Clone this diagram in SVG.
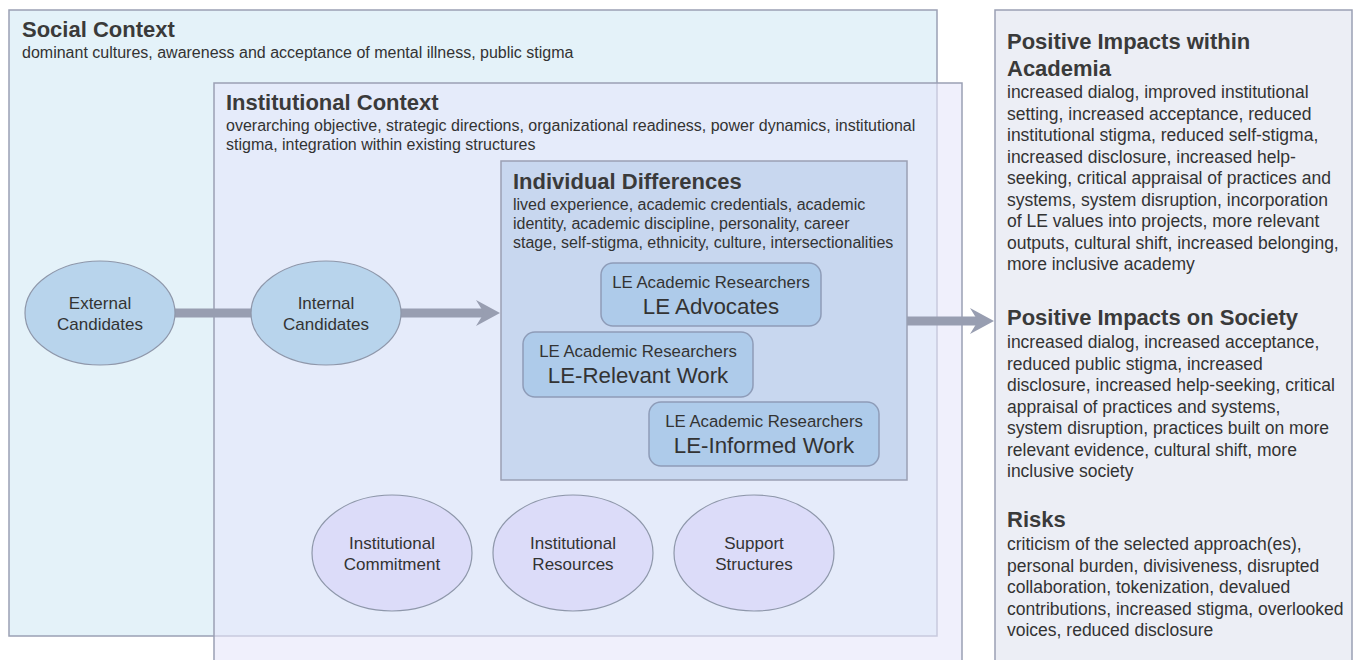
<svg xmlns="http://www.w3.org/2000/svg" width="1354" height="660" viewBox="0 0 1354 660">
<style>
text{font-family:"Liberation Sans",Arial,sans-serif;fill:#333}
.h{font-weight:bold;font-size:22px;fill:#3a3a3a}
.b{font-size:16px}
.r{font-size:17.5px}
.box{stroke:#9aa0b4;stroke-width:1.5}
.le{fill:#aecbea;stroke:#8e9cb8;stroke-width:1.5}
.ell{fill:#b8d4ec;stroke:#8e97aa;stroke-width:1.2}
.ell2{fill:#dcdcf9;stroke:#8e97aa;stroke-width:1.2}
.c{text-anchor:middle}
.e{font-size:17px}
.s{font-size:16.8px}
.t{font-size:22.3px}
.conn{stroke:#989eb1;stroke-width:9;fill:none}
.head{fill:#989eb1}
</style>
<rect width="1354" height="660" fill="#ffffff"/>
<g id="social-context">
<rect class="box" x="9" y="10" width="928" height="626" fill="#e4f2f9"/>
<text class="h" x="22" y="37">Social Context</text>
<text class="b" x="22" y="58">dominant cultures, awareness and acceptance of mental illness, public stigma</text>
</g>
<g id="institutional-context">
<rect class="box" x="214" y="83" width="748" height="600" fill="#e6e6fa" fill-opacity="0.6"/>
<text class="h" x="226" y="110">Institutional Context</text>
<text class="b" x="226" y="131">overarching objective, strategic directions, organizational readiness, power dynamics, institutional</text>
<text class="b" x="226" y="150">stigma, integration within existing structures</text>
</g>
<g id="individual-differences">
<rect class="box" x="501" y="161" width="406" height="319" fill="#c8d7ef"/>
<text class="h" x="513" y="189">Individual Differences</text>
<text class="b" x="513" y="210">lived experience, academic credentials, academic</text>
<text class="b" x="513" y="229">identity, academic discipline, personality, career</text>
<text class="b" x="513" y="248">stage, self-stigma, ethnicity, culture, intersectionalities</text>
</g>
<g id="le-advocates">
<rect class="le" x="601" y="263" width="220" height="63" rx="12"/>
<text class="c s" x="711" y="288">LE Academic Researchers</text>
<text class="c t" x="711" y="314">LE Advocates</text>
</g>
<g id="le-relevant">
<rect class="le" x="523" y="332" width="230" height="65" rx="12"/>
<text class="c s" x="638" y="357">LE Academic Researchers</text>
<text class="c t" x="638" y="383">LE-Relevant Work</text>
</g>
<g id="le-informed">
<rect class="le" x="649" y="402" width="230" height="64" rx="12"/>
<text class="c s" x="764" y="427">LE Academic Researchers</text>
<text class="c t" x="764" y="453">LE-Informed Work</text>
</g>
<g id="connectors">
<line class="conn" x1="175" y1="313" x2="252" y2="313"/>
<line class="conn" x1="401" y1="313" x2="484" y2="313"/>
<polygon class="head" points="500,313 476,300 484,313 476,326"/>
<line class="conn" x1="907" y1="321" x2="978" y2="321"/>
<polygon class="head" points="994,321 970,308 978,321 970,334"/>
</g>
<g id="external-candidates">
<ellipse class="ell" cx="100" cy="313" rx="75" ry="52"/>
<text class="c e" x="100" y="309">External</text>
<text class="c e" x="100" y="330">Candidates</text>
</g>
<g id="internal-candidates">
<ellipse class="ell" cx="326" cy="313" rx="75" ry="52"/>
<text class="c e" x="326" y="309">Internal</text>
<text class="c e" x="326" y="330">Candidates</text>
</g>
<g id="institutional-commitment">
<ellipse class="ell2" cx="392" cy="553" rx="80" ry="58"/>
<text class="c e" x="392" y="549">Institutional</text>
<text class="c e" x="392" y="570">Commitment</text>
</g>
<g id="institutional-resources">
<ellipse class="ell2" cx="573" cy="553" rx="80" ry="58"/>
<text class="c e" x="573" y="549">Institutional</text>
<text class="c e" x="573" y="570">Resources</text>
</g>
<g id="support-structures">
<ellipse class="ell2" cx="754" cy="553" rx="80" ry="58"/>
<text class="c e" x="754" y="549">Support</text>
<text class="c e" x="754" y="570">Structures</text>
</g>
<g id="outcomes">
<rect class="box" x="995" y="10" width="357" height="680" fill="#eceef5"/>
<text class="h" x="1007" y="49">Positive Impacts within</text>
<text class="h" x="1007" y="76">Academia</text>
<text class="r" x="1007" y="98">increased dialog, improved institutional</text>
<text class="r" x="1007" y="119.5">setting, increased acceptance, reduced</text>
<text class="r" x="1007" y="141">institutional stigma, reduced self-stigma,</text>
<text class="r" x="1007" y="162.5">increased disclosure, increased help-</text>
<text class="r" x="1007" y="184">seeking, critical appraisal of practices and</text>
<text class="r" x="1007" y="205.5">systems, system disruption, incorporation</text>
<text class="r" x="1007" y="227">of LE values into projects, more relevant</text>
<text class="r" x="1007" y="248.5">outputs, cultural shift, increased belonging,</text>
<text class="r" x="1007" y="270">more inclusive academy</text>
<text class="h" x="1007" y="325">Positive Impacts on Society</text>
<text class="r" x="1007" y="348">increased dialog, increased acceptance,</text>
<text class="r" x="1007" y="369.5">reduced public stigma, increased</text>
<text class="r" x="1007" y="391">disclosure, increased help-seeking, critical</text>
<text class="r" x="1007" y="412.5">appraisal of practices and systems,</text>
<text class="r" x="1007" y="434">system disruption, practices built on more</text>
<text class="r" x="1007" y="455.5">relevant evidence, cultural shift, more</text>
<text class="r" x="1007" y="477">inclusive society</text>
<text class="h" x="1007" y="527">Risks</text>
<text class="r" x="1007" y="550">criticism of the selected approach(es),</text>
<text class="r" x="1007" y="571.5">personal burden, divisiveness, disrupted</text>
<text class="r" x="1007" y="593">collaboration, tokenization, devalued</text>
<text class="r" x="1007" y="614.5">contributions, increased stigma, overlooked</text>
<text class="r" x="1007" y="636">voices, reduced disclosure</text>
</g>
</svg>
